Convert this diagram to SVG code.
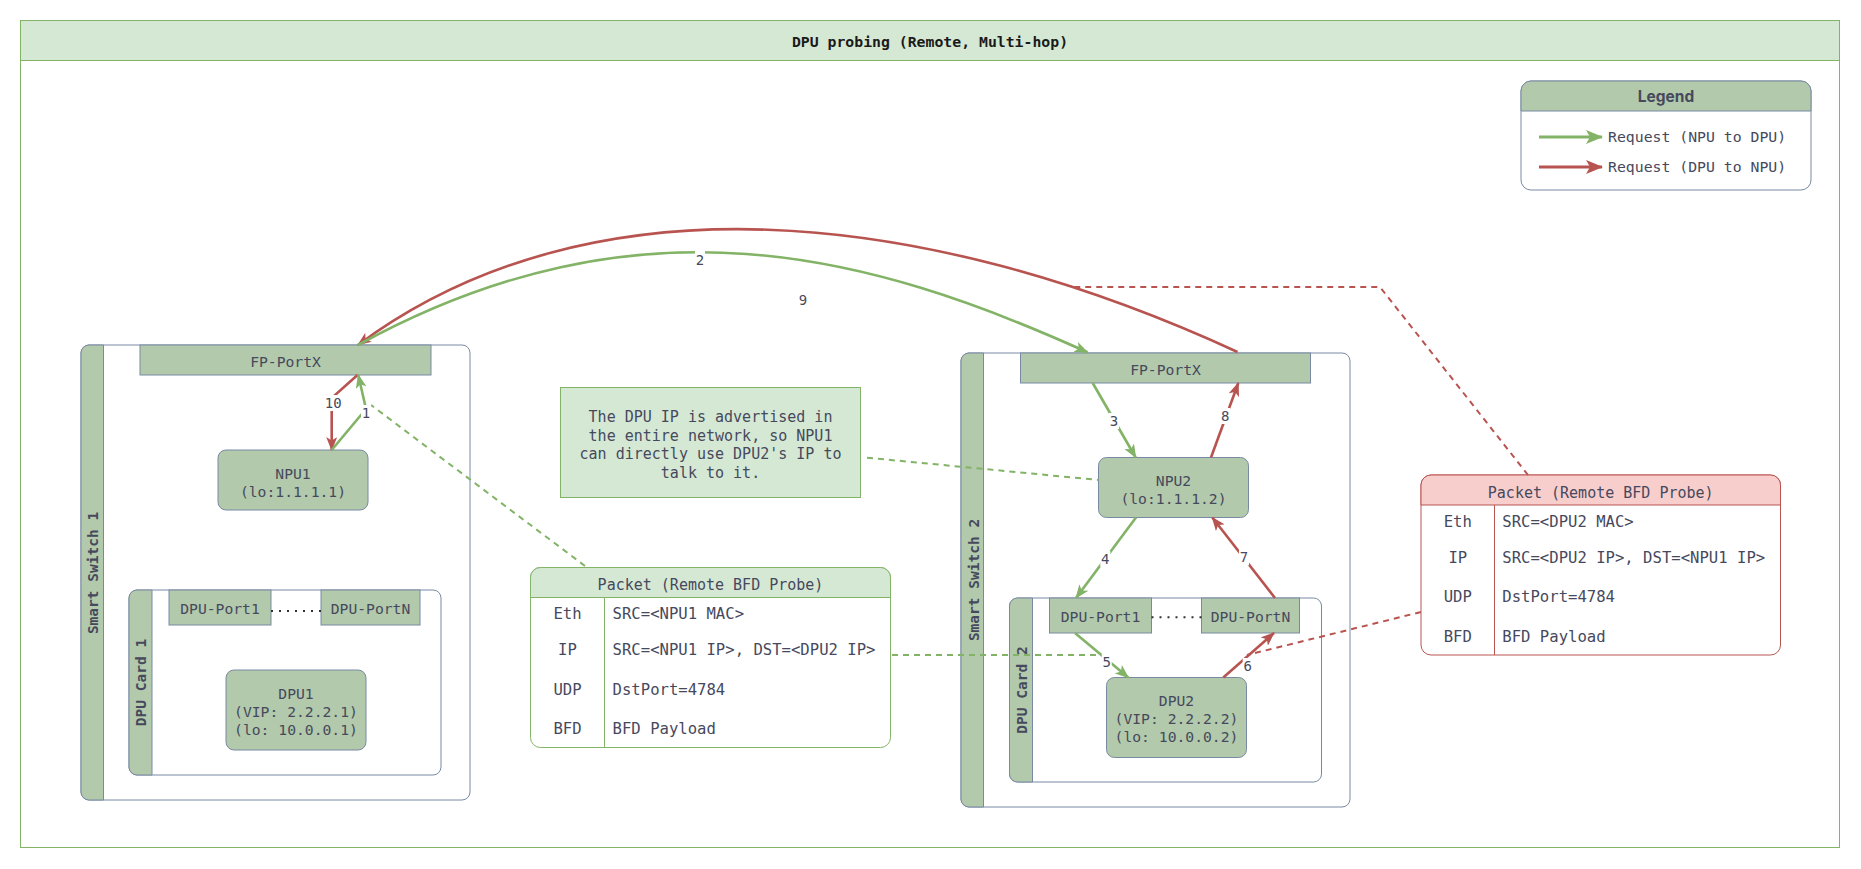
<svg xmlns="http://www.w3.org/2000/svg" width="1861" height="869" viewBox="0 0 1861 869">
<defs>
<style>
.t{font-family:"DejaVu Sans Mono","Liberation Mono",monospace;font-size:14.7px;fill:#46495D;text-anchor:middle}
.tl{font-family:"DejaVu Sans Mono","Liberation Mono",monospace;font-size:15.6px;fill:#46495D}
.tc{font-family:"DejaVu Sans Mono","Liberation Mono",monospace;font-size:15.6px;fill:#46495D;text-anchor:middle}
.lab{font-family:"DejaVu Sans Mono","Liberation Mono",monospace;font-size:14px;fill:#46495D;text-anchor:middle}
.vb{font-family:"DejaVu Sans Mono","Liberation Mono",monospace;font-size:14.5px;font-weight:bold;fill:#46495D;text-anchor:middle}
.node{fill:#B2C9AB;stroke:#788AA3;stroke-width:1}
.cont{fill:#ffffff;stroke:#788AA3;stroke-width:1}
.g{fill:none;stroke:#82b366;stroke-width:2.6}
.r{fill:none;stroke:#b85450;stroke-width:2.6}
.gd{fill:none;stroke:#82b366;stroke-width:2;stroke-dasharray:6 5}
.rd{fill:none;stroke:#b85450;stroke-width:2;stroke-dasharray:6 5}
.bg{fill:#ffffff}
</style>
<marker id="ag" viewBox="0 0 14 11" refX="13" refY="5.5" markerWidth="14" markerHeight="11" markerUnits="userSpaceOnUse" orient="auto"><path d="M0,0 L14,5.5 L0,11 L3.5,5.5 Z" fill="#82b366"/></marker>
<marker id="ar" viewBox="0 0 14 11" refX="13" refY="5.5" markerWidth="14" markerHeight="11" markerUnits="userSpaceOnUse" orient="auto"><path d="M0,0 L14,5.5 L0,11 L3.5,5.5 Z" fill="#b85450"/></marker>
<marker id="lg" viewBox="0 0 17 14" refX="16" refY="7" markerWidth="17" markerHeight="14" markerUnits="userSpaceOnUse" orient="auto"><path d="M0,0 L17,7 L0,14 L4,7 Z" fill="#82b366"/></marker>
<marker id="lr" viewBox="0 0 17 14" refX="16" refY="7" markerWidth="17" markerHeight="14" markerUnits="userSpaceOnUse" orient="auto"><path d="M0,0 L17,7 L0,14 L4,7 Z" fill="#b85450"/></marker>
</defs>
<rect width="1861" height="869" fill="#ffffff"/>
<g id="frame">
<rect x="20.5" y="20.5" width="1819" height="827" fill="#ffffff" stroke="#82b366"/>
<rect x="20.5" y="20.5" width="1819" height="40" fill="#d5e8d4" stroke="#82b366"/>
<text x="930" y="46.5" style="font-family:'DejaVu Sans Mono','Liberation Mono',monospace;font-size:14.8px;font-weight:bold;fill:#1a1a1a;text-anchor:middle">DPU probing (Remote, Multi-hop)</text>
</g>
<g id="legend">
<rect x="1521" y="81" width="290" height="109" rx="10" fill="#ffffff" stroke="#788AA3"/>
<path d="M1521,111 V91 A10,10 0 0 1 1531,81 H1801 A10,10 0 0 1 1811,91 V111 Z" fill="#B2C9AB" stroke="#788AA3"/>
<text x="1666" y="102" style="font-family:Inter,'Noto Sans',sans-serif;font-size:15.5px;font-weight:bold;fill:#46495D;text-anchor:middle">Legend</text>
<line x1="1539" y1="137" x2="1602" y2="137" stroke="#82b366" stroke-width="3" marker-end="url(#lg)"/>
<text class="tl" x="1608" y="142" style="font-size:14.8px">Request (NPU to DPU)</text>
<line x1="1539" y1="167" x2="1602" y2="167" stroke="#b85450" stroke-width="3" marker-end="url(#lr)"/>
<text class="tl" x="1608" y="172" style="font-size:14.8px">Request (DPU to NPU)</text>
</g>
<g id="smart-switch-1">
<rect class="cont" x="81" y="345" width="389" height="455" rx="8"/>
<path class="node" d="M103.5,345 H89 A8,8 0 0 0 81,353 V792 A8,8 0 0 0 89,800 H103.5 Z"/>
<text class="vb" transform="translate(92,573) rotate(-90)" x="0" y="6">Smart Switch 1</text>
</g>
<g id="fp-portx-1">
<rect class="node" x="140" y="345" width="291" height="30"/>
<text class="t" x="285.5" y="367">FP-PortX</text>
</g>
<g id="npu1">
<rect class="node" x="218" y="450" width="150" height="60" rx="8"/>
<text class="t" x="293" y="478.5">NPU1</text>
<text class="t" x="293" y="496.5">(lo:1.1.1.1)</text>
</g>
<g id="dpu-card-1">
<rect class="cont" x="129" y="590" width="312" height="185" rx="8"/>
<path class="node" d="M152,590 H137 A8,8 0 0 0 129,598 V767 A8,8 0 0 0 137,775 H152 Z"/>
<text class="vb" transform="translate(140,682.5) rotate(-90)" x="0" y="6">DPU Card 1</text>
</g>
<g id="dpu1-port1">
<rect class="node" x="169" y="590" width="102" height="35"/>
<text class="t" x="220" y="614">DPU-Port1</text>
</g>
<g id="dpu1-portn">
<rect class="node" x="321" y="590" width="99" height="35"/>
<text class="t" x="370.5" y="614">DPU-PortN</text>
</g>
<g id="dpu1">
<rect class="node" x="226" y="670" width="140" height="80" rx="8"/>
<text class="t" x="296" y="698.5">DPU1</text>
<text class="t" x="296" y="717">(VIP: 2.2.2.1)</text>
<text class="t" x="296" y="735.3">(lo: 10.0.0.1)</text>
</g>
<g id="smart-switch-2">
<rect class="cont" x="961" y="353" width="389" height="454" rx="8"/>
<path class="node" d="M983.5,353 H969 A8,8 0 0 0 961,361 V799 A8,8 0 0 0 969,807 H983.5 Z"/>
<text class="vb" transform="translate(973,580) rotate(-90)" x="0" y="6">Smart Switch 2</text>
</g>
<g id="fp-portx-2">
<rect class="node" x="1020.5" y="353" width="290" height="30"/>
<text class="t" x="1165.5" y="374.6">FP-PortX</text>
</g>
<g id="npu2">
<rect class="node" x="1098.5" y="457.5" width="150" height="60" rx="8"/>
<text class="t" x="1173.5" y="485.5">NPU2</text>
<text class="t" x="1173.5" y="503.5">(lo:1.1.1.2)</text>
</g>
<g id="dpu-card-2">
<rect class="cont" x="1009.5" y="598" width="312" height="184" rx="8"/>
<path class="node" d="M1032.5,598 H1017.5 A8,8 0 0 0 1009.5,606 V774 A8,8 0 0 0 1017.5,782 H1032.5 Z"/>
<text class="vb" transform="translate(1021,690) rotate(-90)" x="0" y="6">DPU Card 2</text>
</g>
<g id="dpu2-port1">
<rect class="node" x="1049.5" y="598" width="102" height="35"/>
<text class="t" x="1100.5" y="622">DPU-Port1</text>
</g>
<g id="dpu2-portn">
<rect class="node" x="1201.5" y="598" width="98" height="35"/>
<text class="t" x="1250.5" y="622">DPU-PortN</text>
</g>
<g id="dpu2">
<rect class="node" x="1106.5" y="677.5" width="140" height="80" rx="8"/>
<text class="t" x="1176.5" y="706">DPU2</text>
<text class="t" x="1176.5" y="724.3">(VIP: 2.2.2.2)</text>
<text class="t" x="1176.5" y="742">(lo: 10.0.0.2)</text>
</g>
<g id="note">
<rect x="560.5" y="387.5" width="300" height="110" fill="#d5e8d4" stroke="#82b366"/>
<text class="t" x="710.5" y="422" style="font-size:15px">The DPU IP is advertised in</text>
<text class="t" x="710.5" y="440.5" style="font-size:15px">the entire network, so NPU1</text>
<text class="t" x="710.5" y="459" style="font-size:15px">can directly use DPU2's IP to</text>
<text class="t" x="710.5" y="477.5" style="font-size:15px">talk to it.</text>
</g>
<g id="packet-request">
<rect x="530.5" y="567.5" width="360" height="180" rx="10" fill="#ffffff" stroke="#82b366"/>
<path d="M530.5,597.5 V577.5 A10,10 0 0 1 540.5,567.5 H880.5 A10,10 0 0 1 890.5,577.5 V597.5 Z" fill="#d5e8d4" stroke="#82b366"/>
<line x1="604.5" y1="597.5" x2="604.5" y2="747.5" stroke="#82b366"/>
<text class="t" x="710.5" y="589.5" style="font-size:15px">Packet (Remote BFD Probe)</text>
<text class="tc" x="567.5" y="619.3">Eth</text>
<text class="tl" x="612.6" y="619.3">SRC=&lt;NPU1 MAC&gt;</text>
<text class="tc" x="567.5" y="655">IP</text>
<text class="tl" x="612.6" y="655">SRC=&lt;NPU1 IP&gt;, DST=&lt;DPU2 IP&gt;</text>
<text class="tc" x="567.5" y="694.6">UDP</text>
<text class="tl" x="612.6" y="694.6">DstPort=4784</text>
<text class="tc" x="567.5" y="734">BFD</text>
<text class="tl" x="612.6" y="734">BFD Payload</text>
</g>
<g id="packet-reply">
<rect x="1421" y="475" width="359.5" height="180" rx="10" fill="#ffffff" stroke="#b85450"/>
<path d="M1421,505 V485 A10,10 0 0 1 1431,475 H1770.5 A10,10 0 0 1 1780.5,485 V505 Z" fill="#f8cecc" stroke="#b85450"/>
<line x1="1494.5" y1="505" x2="1494.5" y2="655" stroke="#b85450"/>
<text class="t" x="1600.7" y="497.5" style="font-size:15px">Packet (Remote BFD Probe)</text>
<text class="tc" x="1457.8" y="527.3">Eth</text>
<text class="tl" x="1502.3" y="527.3">SRC=&lt;DPU2 MAC&gt;</text>
<text class="tc" x="1457.8" y="563">IP</text>
<text class="tl" x="1502.3" y="563">SRC=&lt;DPU2 IP&gt;, DST=&lt;NPU1 IP&gt;</text>
<text class="tc" x="1457.8" y="602.3">UDP</text>
<text class="tl" x="1502.3" y="602.3">DstPort=4784</text>
<text class="tc" x="1457.8" y="642.3">BFD</text>
<text class="tl" x="1502.3" y="642.3">BFD Payload</text>
</g>
<g id="connectors">
<line x1="271" y1="611" x2="321" y2="611" stroke="#333" stroke-width="2" stroke-dasharray="2 6"/>
<line x1="1151.5" y1="617.3" x2="1201.5" y2="617.3" stroke="#333" stroke-width="2" stroke-dasharray="2 6"/>
<path class="gd" d="M585,566 L371,405"/>
<path class="gd" d="M867,457.7 L1098.5,480"/>
<path class="gd" d="M892,655 L1101.6,655"/>
<path class="rd" d="M1528,475 L1380,287 L1074,287"/>
<path class="rd" d="M1421,612 L1247,655"/>
<path class="r" d="M1237.5,352 C924.2,207.8 591.2,172.4 358,345" marker-end="url(#ar)"/>
<path class="g" d="M358,345 C638.6,191.4 868.9,253.4 1087.5,352.3" marker-end="url(#ag)"/>
<path class="r" d="M357.5,375 L331.7,398 L331.7,450" marker-end="url(#ar)"/>
<path class="g" d="M331.7,450 L366,409 L358.3,375" marker-end="url(#ag)"/>
<path class="g" d="M1092.7,383 L1135.7,457.5" marker-end="url(#ag)"/>
<path class="r" d="M1211,457.5 L1238.3,383" marker-end="url(#ar)"/>
<path class="g" d="M1136,517.5 L1076,598" marker-end="url(#ag)"/>
<path class="r" d="M1275,598 L1212.3,517.5" marker-end="url(#ar)"/>
<path class="g" d="M1075,633 L1128.3,677.5" marker-end="url(#ag)"/>
<path class="r" d="M1223.3,677.5 L1274,633" marker-end="url(#ar)"/>
<rect class="bg" x="695" y="251" width="10" height="17"/>
<text class="lab" x="700" y="265">2</text>
<text class="lab" x="803" y="305">9</text>
<rect class="bg" x="324" y="395" width="18" height="16"/>
<text class="lab" x="333.3" y="408.3">10</text>
<rect class="bg" x="361" y="405" width="10" height="16"/>
<text class="lab" x="366" y="418">1</text>
<rect class="bg" x="1109" y="413" width="10" height="16"/>
<text class="lab" x="1114" y="425.7">3</text>
<rect class="bg" x="1220.3" y="408" width="10" height="16"/>
<text class="lab" x="1225.3" y="421">8</text>
<rect class="bg" x="1100.3" y="551" width="10" height="16"/>
<text class="lab" x="1105.3" y="564">4</text>
<rect class="bg" x="1239" y="549.3" width="10" height="16"/>
<text class="lab" x="1244" y="562.3">7</text>
<rect class="bg" x="1101.7" y="654" width="10" height="16"/>
<text class="lab" x="1106.7" y="666.7">5</text>
<rect class="bg" x="1242.7" y="658" width="10" height="16"/>
<text class="lab" x="1247.7" y="670.7">6</text>
</g>
</svg>
